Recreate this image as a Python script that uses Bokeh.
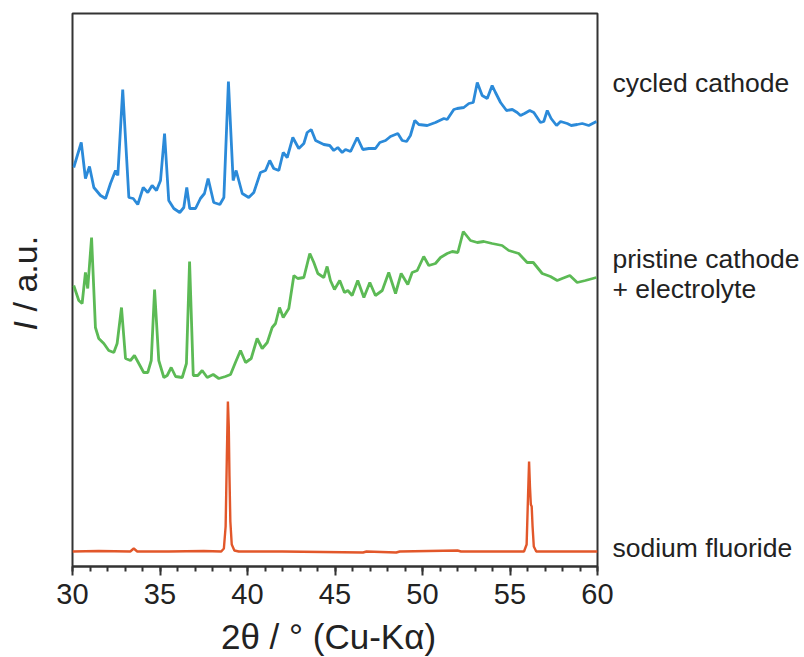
import math
from bokeh.plotting import figure
from bokeh.layouts import row, column
from bokeh.models import Range1d, FixedTicker, LinearAxis
from bokeh.core.properties import value
from bokeh.embed import file_html
from bokeh.resources import INLINE

# ---- data (2theta in degrees, intensity in arbitrary units with offsets) ----
cycled_x = [30.07, 30.50, 30.74, 30.97, 31.22, 31.60, 31.89, 32.17, 32.46, 32.59, 32.87, 33.22, 33.47,
            33.73, 34.04, 34.30, 34.55, 34.80, 35.03, 35.26, 35.50, 35.79, 36.13, 36.36, 36.53, 36.70,
            37.03, 37.31, 37.54, 37.75, 38.07, 38.42, 38.65, 38.91, 39.18, 39.35, 39.70, 40.07, 40.36,
            40.74, 41.03, 41.27, 41.50, 41.79, 42.04, 42.27, 42.59, 42.93, 43.22, 43.41, 43.64, 43.89,
            44.36, 44.70, 44.93, 45.16, 45.41, 45.60, 45.89, 46.27, 46.59, 46.93, 47.31, 47.56, 47.89,
            48.17, 48.59, 48.84, 49.09, 49.31, 49.56, 49.79, 50.27, 50.74, 51.22, 51.41, 51.79, 51.98,
            52.36, 52.65, 52.90, 53.13, 53.41, 53.70, 53.98, 54.17, 54.46, 54.80, 55.13, 55.41, 55.60,
            55.83, 56.13, 56.36, 56.74, 56.93, 57.13, 57.35, 57.66, 57.89, 58.27, 58.50, 58.84, 59.13,
            59.50, 59.94]
cycled_y = [399, 424, 388, 400, 379, 371, 368, 383, 396, 391, 477, 369, 368,
            362, 379, 374, 381, 376, 386, 433, 366, 358, 354, 359, 379, 358,
            358, 368, 373, 388, 364, 362, 369, 485, 386, 396, 373, 369, 374,
            394, 396, 406, 398, 396, 414, 409, 429, 418, 423, 434, 437, 426,
            422, 421, 416, 419, 414, 417, 415, 429, 417, 418, 418, 424, 426,
            430, 433, 426, 425, 431, 446, 442, 441, 444, 448, 447, 457, 458,
            459, 463, 464, 484, 471, 468, 481, 474, 464, 456, 457, 454, 451,
            453, 456, 454, 444, 445, 456, 448, 441, 445, 443, 441, 442, 443,
            441, 445]

pristine_x = [30.07, 30.36, 30.55, 30.74, 30.87, 31.09, 31.31, 31.50, 31.79, 32.07, 32.36, 32.55, 32.80,
              33.03, 33.31, 33.54, 33.79, 34.07, 34.30, 34.50, 34.69, 34.93, 35.22, 35.41, 35.64, 35.89,
              36.27, 36.51, 36.69, 36.90, 37.16, 37.41, 37.70, 38.04, 38.36, 38.74, 39.03, 39.31, 39.60,
              39.89, 40.21, 40.55, 40.84, 41.13, 41.41, 41.60, 41.83, 42.04, 42.36, 42.65, 42.87, 43.22,
              43.56, 43.79, 44.02, 44.36, 44.55, 44.74, 44.97, 45.27, 45.54, 45.73, 45.98, 46.30, 46.65,
              46.99, 47.31, 47.70, 48.07, 48.46, 48.78, 49.16, 49.41, 49.70, 50.07, 50.36, 50.74, 51.03,
              51.41, 51.70, 52.02, 52.33, 52.74, 53.13, 53.50, 53.98, 54.55, 54.93, 55.50, 55.98, 56.33,
              56.84, 57.31, 57.70, 57.98, 58.42, 58.84, 59.31, 59.94]
pristine_y = [281, 266, 263, 294, 278, 329, 239, 228, 223, 216, 214, 223, 259,
              208, 206, 211, 203, 194, 194, 206, 277, 206, 189, 191, 199, 190,
              189, 203, 305, 191, 191, 196, 189, 192, 188, 190, 192, 204, 216,
              204, 208, 228, 218, 224, 239, 243, 259, 249, 258, 291, 288, 289,
              313, 304, 293, 289, 300, 286, 277, 286, 274, 276, 271, 286, 269,
              284, 271, 276, 294, 273, 293, 282, 294, 296, 310, 301, 303, 309,
              313, 315, 314, 335, 326, 324, 325, 323, 321, 316, 313, 304, 304,
              293, 290, 286, 288, 291, 284, 286, 289]

naf_x = [30.0, 31.5, 33.3, 33.5, 33.7, 35.5, 37.5, 38.5, 38.65, 38.75, 38.82, 38.88, 38.93, 38.97,
         39.02, 39.10, 39.25, 39.5, 42.0, 46.6, 46.8, 48.5, 48.7, 52.0, 52.2, 55.8, 55.95, 56.03,
         56.09, 56.14, 56.19, 56.24, 56.29, 56.36, 56.5, 60.0]
naf_y = [15, 15.5, 15, 18, 15, 15, 15.5, 15, 18, 40, 110, 165, 140, 90,
         45, 22, 16, 15, 15, 14, 15, 14, 15, 16, 15, 15, 22, 70,
         105, 80, 62, 60, 40, 20, 15, 15]

series_labels = ["cycled cathode", "pristine cathode", "+ electrolyte", "sodium fluoride"]
series_label_pos = [484, 308, 278, 19]
x_ticks = [30, 35, 40, 45, 50, 55, 60]
x_title = "2\u03b8 / \u00b0 (Cu-K\u03b1)"
y_title_italic = "I"
y_title_rest = "/ a.u."

BLUE = "#2b8ad9"
GREEN = "#5cba55"
ORANGE = "#e2572a"
FRAME = "#333333"
TXT = "#222222"
SANS = "Liberation Sans"

W = 804
LEFT_W = 45
STRIP_H = 40
H = 657 - STRIP_H
BOTTOM = 51
TOP = 13
FRAME_H = H - TOP - BOTTOM  # 553


def blank(fig):
    fig.grid.visible = False
    fig.outline_line_color = None
    fig.background_fill_color = "white"
    fig.border_fill_color = "white"


# ---- main plot ----
p = figure(width=W - LEFT_W, height=H, output_backend="svg", toolbar_location=None,
           x_range=Range1d(30, 60), y_range=Range1d(0, FRAME_H), y_axis_location=None,
           min_border_left=72 - LEFT_W, min_border_right=207, min_border_top=TOP,
           min_border_bottom=BOTTOM)
p.background_fill_color = "white"
p.border_fill_color = "white"
p.grid.visible = False
p.outline_line_color = FRAME
p.outline_line_width = 2

ax = p.xaxis[0]
ax.ticker = FixedTicker(ticks=x_ticks, minor_ticks=list(range(30, 61)))
ax.axis_line_color = FRAME
ax.axis_line_width = 2
ax.major_tick_line_color = FRAME
ax.major_tick_line_width = 2
ax.minor_tick_line_color = FRAME
ax.minor_tick_line_width = 2
ax.major_tick_in = 0
ax.major_tick_out = 9
ax.minor_tick_in = 0
ax.minor_tick_out = 5
ax.major_label_standoff = 8
ax.major_label_text_font = SANS
ax.major_label_text_font_size = "29px"
ax.major_label_text_color = TXT

# right-hand series labels, placed through an axis on the right
rax = LinearAxis(ticker=FixedTicker(ticks=series_label_pos),
                 major_label_overrides={v: t for v, t in zip(series_label_pos, series_labels)})
rax.axis_line_color = None
rax.major_tick_line_color = None
rax.minor_tick_line_color = None
rax.major_label_standoff = 9
rax.major_label_text_font = SANS
rax.major_label_text_font_size = "26.5px"
rax.major_label_text_color = TXT
p.add_layout(rax, "right")

p.line(cycled_x, cycled_y, line_color=BLUE, line_width=2.8)
p.line(pristine_x, pristine_y, line_color=GREEN, line_width=2.8)
p.line(naf_x, naf_y, line_color=ORANGE, line_width=2.4)

# ---- left strip holding the rotated y title (shares the main plot's vertical scale) ----
q = figure(width=LEFT_W, height=H, output_backend="svg", toolbar_location=None,
           x_range=Range1d(0, LEFT_W), y_range=p.y_range,
           x_axis_location=None, y_axis_location=None, min_border=0)
blank(q)
q.text(x=[24], y=[236], text=[y_title_italic], angle=math.pi / 2, text_font=value(SANS),
       text_font_style="italic", text_font_size="34px", text_color=TXT,
       text_align="left", text_baseline="middle")
q.text(x=[24], y=[255], text=[y_title_rest], angle=math.pi / 2, text_font=value(SANS),
       text_font_size="34px", text_color=TXT, text_align="left", text_baseline="middle")

# ---- bottom strip holding the x title (pixel coordinates) ----
s = figure(width=W, height=STRIP_H, output_backend="svg", toolbar_location=None,
           x_range=Range1d(0, W), y_range=Range1d(STRIP_H, 0),
           x_axis_location=None, y_axis_location=None, min_border=0)
blank(s)
s.text(x=[328], y=[19], text=[x_title], text_font=value(SANS), text_font_size="35px",
       text_color=TXT, text_align="center", text_baseline="middle")

layout = column(row(q, p, spacing=0), s, spacing=0)
open("out.html", "w").write(file_html(layout, INLINE))
